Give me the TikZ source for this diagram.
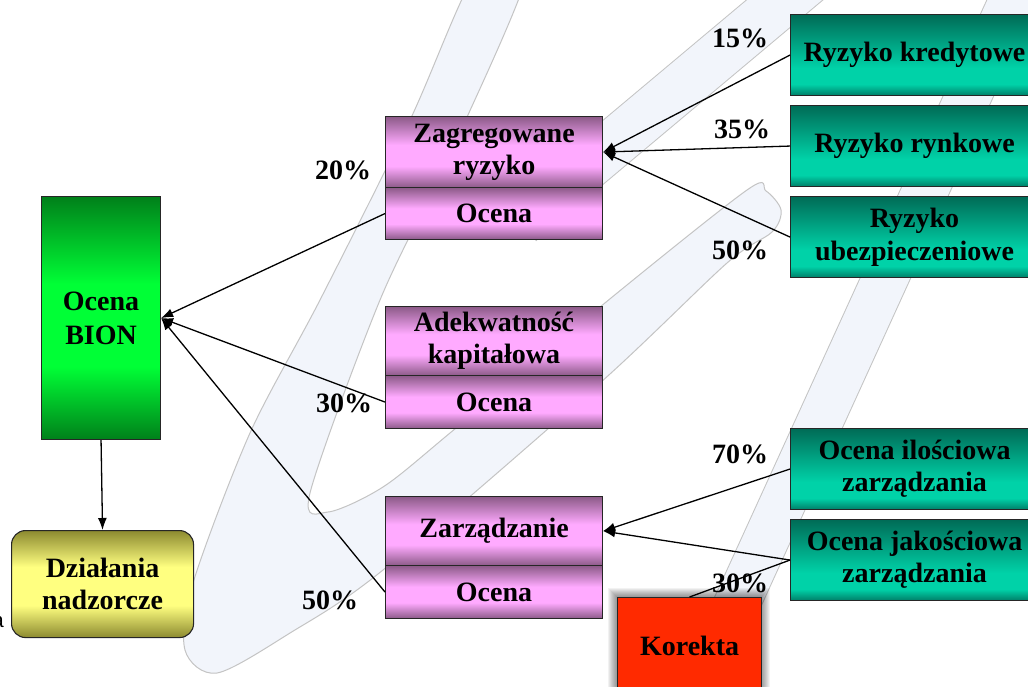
\documentclass[tikz,border=0pt]{standalone}
\usepackage{fontspec}
\setmainfont{Liberation Serif}
\newfontfamily\cutsans{Liberation Sans}
\usetikzlibrary{arrows.meta}
\definecolor{pdark}{HTML}{8C5A88}
\definecolor{plight}{HTML}{FFAAFF}
\definecolor{gdark}{HTML}{00801A}
\definecolor{glight}{HTML}{00FF36}
\definecolor{odark}{HTML}{8C8A30}
\definecolor{olight}{HTML}{FFFF80}
\definecolor{tdark}{HTML}{006B56}
\definecolor{tlight}{HTML}{00D2A8}
\definecolor{tbot}{HTML}{007E68}
\definecolor{redbox}{HTML}{FF2A00}
\definecolor{bandfill}{HTML}{F2F5FB}
\definecolor{bandline}{HTML}{C4C4C4}
\pgfdeclareverticalshading{pinkv}{100bp}{color(0bp)=(pdark); color(25bp)=(pdark); color(40bp)=(plight); color(55bp)=(plight); color(75bp)=(pdark); color(100bp)=(pdark)}
\pgfdeclareverticalshading{greenv}{100bp}{color(0bp)=(gdark); color(25bp)=(gdark); color(40bp)=(glight); color(57bp)=(glight); color(75bp)=(gdark); color(100bp)=(gdark)}
\pgfdeclareverticalshading{olivev}{100bp}{color(0bp)=(odark); color(25bp)=(odark); color(40bp)=(olight); color(58bp)=(olight); color(75bp)=(odark); color(100bp)=(odark)}
\pgfdeclareverticalshading{tealv}{100bp}{color(0bp)=(tbot); color(25bp)=(tbot); color(32bp)=(tlight); color(42bp)=(tlight); color(75bp)=(tdark); color(100bp)=(tdark)}
\newcommand\bfbig{\fontsize{28}{32}\selectfont\bfseries}
\begin{document}
\begin{tikzpicture}[x=1pt,y=-1pt,
  box/.style={draw=black!85, line width=1.1pt, inner sep=0pt, align=center, font=\bfbig},
  pinkbox/.style={box, shading=pinkv, minimum width=217pt},
  tealbox/.style={box, shading=tealv, minimum width=248pt, minimum height=81pt, anchor=north west},
  pct/.style={font=\bfbig, inner sep=0pt},
  conn/.style={line width=1.3pt, draw=black},
  arr/.style={conn, -{Latex[length=12pt,width=9pt]}},
  band/.style={draw=bandline, line width=1pt, fill=bandfill}]
\useasboundingbox (0,0) rectangle (1028,686);
\clip (0,0) rectangle (1028,686);
\fill[white] (0,0) rectangle (1028,686);
% background flourish
\draw[bandline, line width=50pt] (880,-80) -- (520,222);
\draw[bandline, line width=47pt] (1019,-15) -- (693,700);
\draw[bandfill, line width=48pt] (880,-80) -- (520,222);
\draw[bandfill, line width=45pt] (1019,-15) -- (693,700);
\draw[band] plot[smooth cycle, tension=0.5] coordinates {(478,-30) (410,120) (320,300) (250,433) (193,583) (185,650) (217,673) (290,633) (383,570) (600,383) (727,263) (772,232) (781,210) (766,191) (747,190) (600,307) (450,433) (383,487) (328,512) (310,493) (380,300) (452,150) (528,-30)};
% nodes
\node[box, shading=greenv, minimum width=119pt, minimum height=243pt, anchor=north west, font=\fontsize{28}{34}\selectfont\bfseries] (bion) at (41,196) {Ocena\\BION};
\node[box, shading=olivev, rounded corners=14pt, minimum width=182pt, minimum height=107pt, anchor=north west] (dz) at (11,530) {Działania\\nadzorcze};
\node[anchor=base east, font=\cutsans\fontsize{21}{24}\selectfont, inner sep=0pt] (acut) at (4,627) {a};
\node[pinkbox, minimum height=71pt, anchor=north west] (zag) at (385,116) {Zagregowane\\ryzyko};
\node[pinkbox, minimum height=52pt, anchor=north west] (zago) at (385,187) {Ocena};
\node[pinkbox, minimum height=69pt, anchor=north west] (adk) at (385,306) {Adekwatność\\kapitałowa};
\node[pinkbox, minimum height=53pt, anchor=north west] (adko) at (385,375) {Ocena};
\node[pinkbox, minimum height=69pt, anchor=north west] (zarz) at (385,496) {Zarządzanie};
\node[pinkbox, minimum height=53pt, anchor=north west] (zarzo) at (385,565) {Ocena};
\node[tealbox] (kred) at (790,14) {Ryzyko kredytowe};
\node[tealbox] (rynk) at (790,105) {Ryzyko rynkowe};
\node[tealbox, font=\fontsize{28}{33}\selectfont\bfseries] (ubez) at (790,196) {Ryzyko\\ubezpieczeniowe};
\node[tealbox] (ilo) at (790,428) {Ocena ilościowa\\zarządzania};
\node[tealbox] (jak) at (790,519) {Ocena jakościowa\\zarządzania};
% Korekta with soft shadow
\foreach \i in {1,...,9} {\fill[black, opacity=0.05] ({617-\i},{597-\i}) rectangle ({761+\i},700);}
\node[box, fill=redbox, minimum width=144pt, minimum height=96pt, anchor=north west] (kor) at (617,597) {Korekta};
% connectors
\draw[arr] (zago.west) -- (bion.east);
\draw[arr] (adko.west) -- (bion.east);
\draw[arr] (zarzo.west) -- (bion.east);
\draw[arr] (bion.south) -- (dz.north);
\draw[arr] (kred.west) -- (zag.east);
\draw[arr] (rynk.west) -- (zag.east);
\draw[arr] (ubez.west) -- (zag.east);
\draw[arr] (ilo.west) -- (zarz.east);
\draw[arr] (jak.west) -- (zarz.east);
\draw[conn] (kor.north) -- (jak.west);
% percentages
\node[pct] (p15) at (740,38) {15\%};
\node[pct] (p35) at (742,129) {35\%};
\node[pct] (p50a) at (740,250) {50\%};
\node[pct] (p20) at (343,170) {20\%};
\node[pct] (p30a) at (344,403) {30\%};
\node[pct] (p50b) at (330,600) {50\%};
\node[pct] (p70) at (740,454) {70\%};
\node[pct] (p30b) at (740,583) {30\%};
\end{tikzpicture}
\end{document}
